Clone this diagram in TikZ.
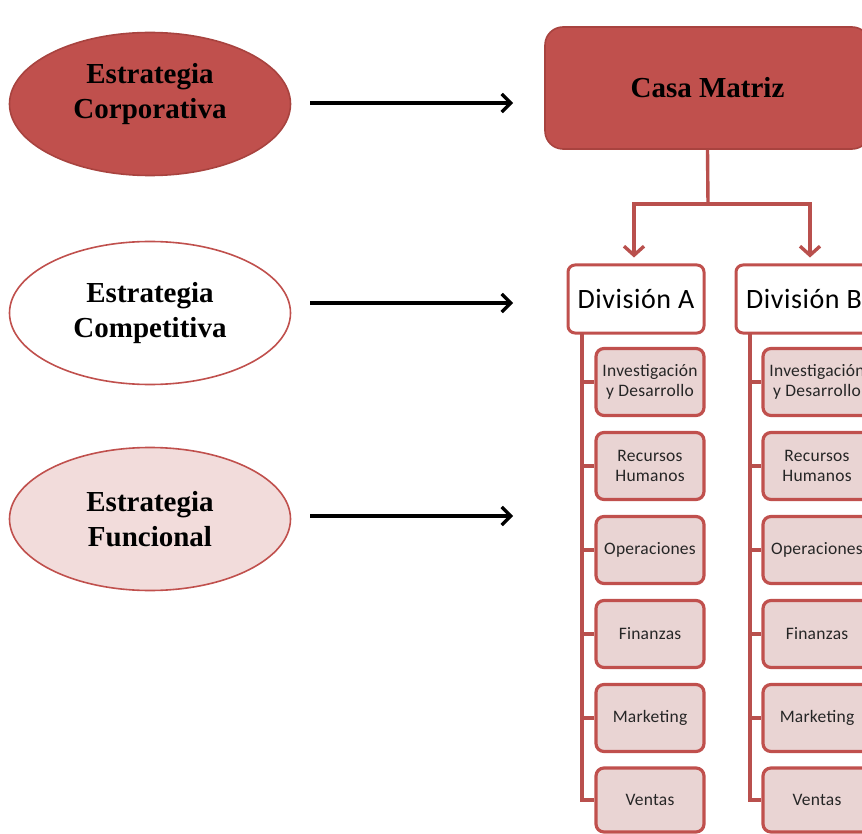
\documentclass[tikz,border=0pt]{standalone}
\usepackage{fontspec}
\setmainfont{Liberation Serif}
\newfontfamily\calibsp[LetterSpace=1.5]{Carlito}
\newfontfamily\calibdiv[LetterSpace=2]{Carlito}
\usetikzlibrary{shapes.geometric,arrows.meta}
\definecolor{accent}{HTML}{C0504D}
\definecolor{accentdark}{HTML}{A8433F}
\definecolor{connred}{HTML}{B9504D}
\definecolor{paleaccent}{HTML}{F2DCDB}
\definecolor{subfill}{HTML}{E9D4D3}
\begin{document}
\begin{tikzpicture}[x=1pt,y=-1pt,
  oval/.style={ellipse, minimum width=281pt, minimum height=143pt, inner sep=0pt,
    line width=1.6pt, align=center,
    font=\bfseries\fontsize{29}{35}\selectfont},
  ovaltext/.style={align=center, inner sep=0pt, font=\bfseries\fontsize{29}{35}\selectfont},
  topbox/.style={rectangle, rounded corners=18pt, minimum width=325pt, minimum height=122pt,
    fill=accent, draw=accentdark, line width=1.6pt,
    font=\bfseries\fontsize{29}{35}\selectfont},
  divbox/.style={rectangle, rounded corners=7pt, minimum width=136pt, minimum height=68pt,
    fill=white, draw=accent, line width=3pt, inner sep=0pt,
    font=\calibdiv\fontsize{28}{32}\selectfont},
  subbox/.style={rectangle, rounded corners=8pt, minimum width=108pt, minimum height=67pt,
    fill=subfill, draw=accent, line width=3.2pt, inner sep=0pt, align=center,
    text=black!85, font=\calibsp\fontsize{17.5}{19.5}\selectfont},
  flow/.style={draw=black, line width=3.2pt, -{Straight Barb[length=9pt,width=18pt]}},
  conn/.style={draw=connred, line width=3.4pt},
  connarrow/.style={conn, -{Straight Barb[length=9pt,width=20pt]}}
]
\useasboundingbox (0,0) rectangle (862,834);

% strategy levels
\node[oval, fill=accent, draw=accentdark] (corp) at (150,104) {};
\node[ovaltext] (corptext) at (150,94) {Estrategia\\Corporativa};
\node[oval, fill=white, draw=accent] (comp) at (150,313) {Estrategia\\Competitiva};
\node[oval, fill=paleaccent, draw=accent] (func) at (150,519) {Estrategia\\Funcional};

% arrows pointing to the organisation levels
\coordinate (f1s) at (310,103); \coordinate (f1e) at (513,103);
\coordinate (f2s) at (310,303); \coordinate (f2e) at (513,303);
\coordinate (f3s) at (310,516); \coordinate (f3e) at (513,516);
\draw[flow] (f1s) -- (f1e);
\draw[flow] (f2s) -- (f2e);
\draw[flow] (f3s) -- (f3e);

% headquarters and divisions
\node[topbox] (casa) at (707.5,88) {Casa Matriz};
\node[divbox] (divA) at (636,299) {División A};
\node[divbox] (divB) at (804,299) {División B};

\coordinate (fork) at (708,204);
\draw[conn] (casa.south) -- (fork);
\draw[connarrow, shorten >=6pt] (fork) -| ([xshift=-2pt]divA.north);
\draw[connarrow, shorten >=6pt] (fork) -| ([xshift=6pt]divB.north);

% functional areas of each division
\foreach \d/\sx/\cx in {A/582/650, B/750/817} {
  \node[subbox] (inv\d) at (\cx,382) {Investigación\\y Desarrollo};
  \node[subbox] (rrhh\d) at (\cx,466) {Recursos\\Humanos};
  \node[subbox] (ope\d) at (\cx,550) {Operaciones};
  \node[subbox] (fin\d) at (\cx,634) {Finanzas};
  \node[subbox] (mkt\d) at (\cx,718) {Marketing};
  \node[subbox, minimum height=64pt] (ven\d) at (\cx,800) {Ventas};
  \coordinate (spine\d) at (\sx,333);
  \draw[conn] (spine\d) |- (ven\d.west);
  \foreach \n in {inv,rrhh,ope,fin,mkt} {
    \draw[conn] (spine\d |- \n\d.west) -- (\n\d.west);
  }
}
\end{tikzpicture}
\end{document}
